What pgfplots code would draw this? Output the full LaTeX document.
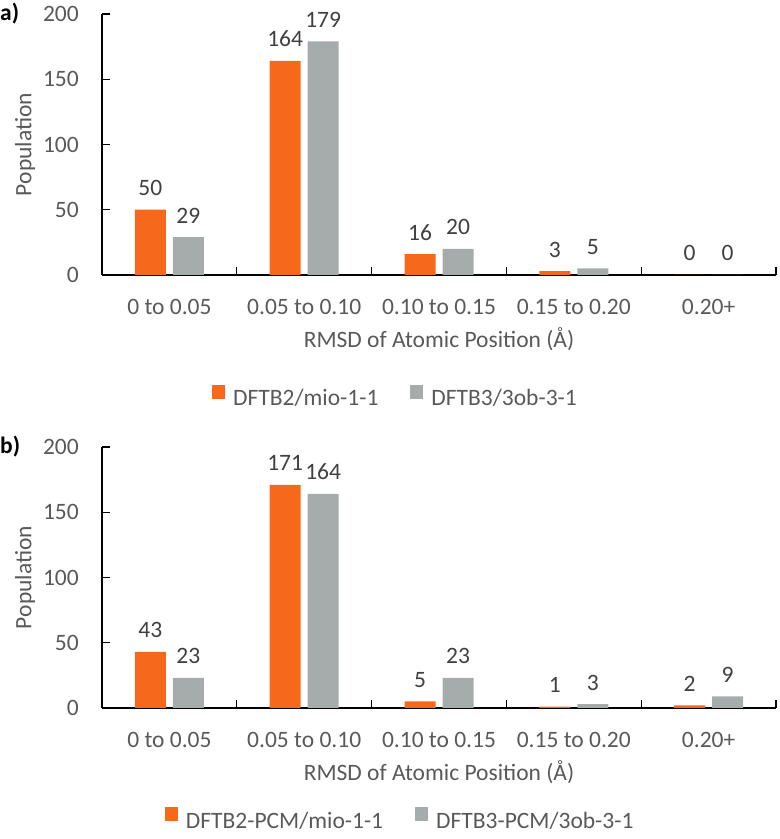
\documentclass[border=0pt]{standalone}
\usepackage{fontspec}
\setmainfont{Carlito}
\usepackage{pgfplots}
\pgfplotsset{compat=1.18}
\definecolor{barorange}{RGB}{246,104,27}
\definecolor{bargray}{RGB}{166,172,171}
\definecolor{ticktext}{RGB}{89,89,89}
\definecolor{valtext}{RGB}{64,64,64}
\newcommand\ff{\fontsize{23.5}{28}\selectfont}

\pgfplotsset{
  rmsd/.style={
    scale only axis, width=674pt, height=261pt,
    anchor=south west,
    /pgf/number format/assume math mode=true,
    ybar=7pt, bar width=31pt,
    xmin=-0.5, xmax=4.5, ymin=0, ymax=200,
    axis x line*=bottom, axis y line*=left,
    axis line style={line width=1.3pt, black},
    tick align=inside,
    major tick length=8pt, minor tick length=8pt,
    tick style={line width=1.3pt, black},
    major x tick style={draw=none},
    xtick={0,1,2,3,4},
    minor xtick={0.5,1.5,2.5,3.5,4.5},
    xticklabels={0 to 0.05, 0.05 to 0.10, 0.10 to 0.15, 0.15 to 0.20, 0.20+},
    ytick={0,50,100,150,200},
    tick label style={font=\ff, text=ticktext},
    xticklabel style={anchor=base, inner sep=0pt, yshift=-39.5pt},
    yticklabel style={anchor=east, inner sep=0pt, xshift=-23pt},
    xlabel={RMSD of Atomic Position (Å)},
    ylabel={Population},
    label style={font=\ff, text=ticktext},
    xlabel style={at={(axis description cs:0.5,0)}, anchor=base, inner sep=0pt, yshift=-73pt},
    ylabel style={at={(axis description cs:0,0.5)}, anchor=center, inner sep=0pt, yshift=77pt},
    nodes near coords,
    every node near coord/.append style={font=\ff, text=valtext, anchor=base, inner sep=0pt, yshift=14pt},
    legend columns=2,
    legend style={draw=none, fill=none, font=\ff, text=ticktext, inner sep=0pt,
      nodes={inner sep=0pt},
      /tikz/every odd column/.append style={column sep=8pt},
      /tikz/every even column/.append style={column sep=32pt}},
    legend image code/.code={\fill[##1] (0pt,0pt) rectangle (13pt,14pt);},
  },
}

\begin{document}
\begin{tikzpicture}[x=1pt,y=1pt]
\useasboundingbox (0,0) rectangle (780,839);

\begin{axis}[rmsd, at={(102pt,564pt)},
    legend style={at={(0.434,-0.4636)}, anchor=center}]
\addplot[fill=barorange, draw=none] coordinates {(0,50) (1,164) (2,16) (3,3) (4,0)};
\addlegendentry{DFTB2/mio-1-1}
\addplot[fill=bargray, draw=none] coordinates {(0,29) (1,179) (2,20) (3,5) (4,0)};
\addlegendentry{DFTB3/3ob-3-1}
\end{axis}
\node[anchor=west, inner sep=0pt, font=\ff\bfseries] at (0,825) {a)};

\begin{axis}[rmsd, at={(102pt,131pt)},
    legend style={at={(0.441,-0.425)}, anchor=center}]
\addplot[fill=barorange, draw=none] coordinates {(0,43) (1,171) (2,5) (3,1) (4,2)};
\addlegendentry{DFTB2-PCM/mio-1-1}
\addplot[fill=bargray, draw=none] coordinates {(0,23) (1,164) (2,23) (3,3) (4,9)};
\addlegendentry{DFTB3-PCM/3ob-3-1}
\end{axis}
\node[anchor=west, inner sep=0pt, font=\ff\bfseries] at (0,392) {b)};
\end{tikzpicture}
\end{document}
